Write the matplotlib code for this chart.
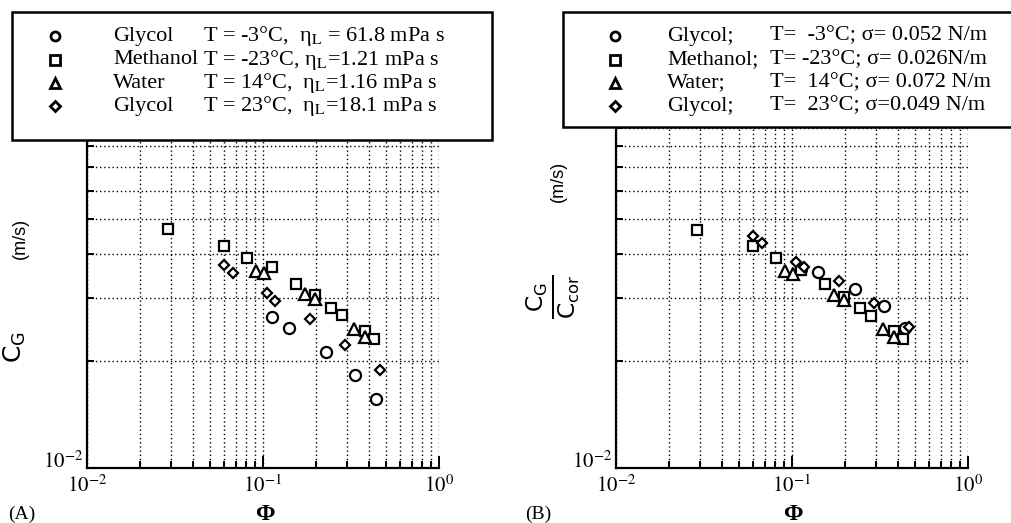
import numpy as np
import matplotlib
matplotlib.use("Agg")
import matplotlib.pyplot as plt
from matplotlib.lines import Line2D
from matplotlib.patches import Rectangle
from matplotlib.ticker import LogLocator, NullFormatter, FixedLocator

plt.rcParams['font.family'] = ['Liberation Serif', 'DejaVu Serif']
plt.rcParams['mathtext.fontset'] = 'stix'

# phi values (same for both panels)
phi_gly3 = [0.113, 0.1406, 0.229, 0.332, 0.4406]
phi_meth = [0.0288, 0.0598, 0.0806, 0.113, 0.1535, 0.197, 0.2427, 0.2825, 0.382, 0.4256]
phi_wat = [0.091, 0.1009, 0.1726, 0.197, 0.329, 0.382]
phi_gly23 = [0.0598, 0.0676, 0.106, 0.1165, 0.184, 0.294, 0.4645]

# (A) C_G in m/s
cg_gly3 = [0.0265, 0.0247, 0.0212, 0.0183, 0.0156]
cg_meth = [0.0469, 0.0421, 0.0390, 0.0367, 0.0329, 0.0306, 0.0282, 0.0269, 0.0243, 0.0231]
cg_wat = [0.0357, 0.0354, 0.0308, 0.0298, 0.0246, 0.0233]
cg_gly23 = [0.0372, 0.0354, 0.0310, 0.0295, 0.0262, 0.0222, 0.0188]

# (B) C_G / C_cor
cr_gly3 = [0.0362, 0.0356, 0.0319, 0.0285, 0.0248]
cr_meth = [0.0466, 0.0419, 0.0388, 0.0360, 0.0328, 0.0303, 0.0282, 0.0268, 0.0243, 0.0230]
cr_wat = [0.0357, 0.0351, 0.0306, 0.0296, 0.0246, 0.0234]
cr_gly23 = [0.0449, 0.0428, 0.0378, 0.0368, 0.0335, 0.0291, 0.0249]

markers = ['o', 's', '^', 'D']
sizes = [8, 7.5, 8, 5.5]

names_a = ["Glycol", "Methanol", "Water", "Glycol"]
info_a = [r"T = -3°C,  η$_\mathrm{L}$ = 61.8 mPa s",
          r"T = -23°C, η$_\mathrm{L}$=1.21 mPa s",
          r"T = 14°C,  η$_\mathrm{L}$=1.16 mPa s",
          r"T = 23°C,  η$_\mathrm{L}$=18.1 mPa s"]
names_b = ["Glycol;", "Methanol;", "Water;", "Glycol;"]
info_b = ["T=  -3°C; σ= 0.052 N/m",
          "T= -23°C; σ= 0.026N/m",
          "T=  14°C; σ= 0.072 N/m",
          "T=  23°C; σ=0.049 N/m"]

W, H = 1011, 523
fig = plt.figure(figsize=(W / 100, H / 100), dpi=100)

def fx(x):
    return x / W

def fy(y):
    return 1 - y / H


def panel(left, series):
    ax = fig.add_axes([fx(left), fy(468), 352 / W, 356 / H])
    ax.set_xscale('log')
    ax.set_yscale('log')
    ax.set_xlim(0.01, 1)
    ax.set_ylim(0.01, 0.1)
    for (x, y), m, s in zip(series, markers, sizes):
        ax.plot(x, y, linestyle='none', marker=m, ms=s, mfc='white',
                mec='black', mew=1.6, zorder=3)
    ax.xaxis.set_major_locator(FixedLocator([0.01, 0.1, 1]))
    ax.set_xticklabels([r'$10^{-2}$', r'$10^{-1}$', r'$10^{0}$'])
    ax.xaxis.set_minor_locator(LogLocator(base=10, subs=np.arange(2, 10)))
    ax.xaxis.set_minor_formatter(NullFormatter())
    ax.yaxis.set_major_locator(FixedLocator([0.01, 0.1]))
    ax.set_yticklabels([r'$10^{-2}$', ''])
    ax.yaxis.set_minor_locator(LogLocator(base=10, subs=np.arange(2, 10)))
    ax.yaxis.set_minor_formatter(NullFormatter())
    ax.tick_params(which='both', direction='in', width=1.4, labelsize=15,
                   top=False, right=False)
    ax.tick_params(which='major', length=9)
    ax.tick_params(axis='x', which='major', pad=5)
    ax.tick_params(axis='y', which='major', pad=3)
    ax.tick_params(which='minor', length=5)
    for lab in ax.get_yticklabels():
        lab.set_verticalalignment('baseline')
    ax.grid(True, which='both', color='black', linestyle=(0, (1, 2)), lw=1.0)
    for sp in ['top', 'right']:
        ax.spines[sp].set_visible(False)
    for sp in ['left', 'bottom']:
        ax.spines[sp].set_linewidth(1.6)
    return ax


axA = panel(87, list(zip([phi_gly3, phi_meth, phi_wat, phi_gly23],
                          [cg_gly3, cg_meth, cg_wat, cg_gly23])))
axB = panel(616, list(zip([phi_gly3, phi_meth, phi_wat, phi_gly23],
                          [cr_gly3, cr_meth, cr_wat, cr_gly23])))

# y labels
fig.text(fx(15), fy(347), r'$\mathrm{C}_\mathrm{G}$', rotation=90, fontsize=18,
         ha='center', va='center', math_fontfamily='dejavusans')
fig.text(fx(20), fy(238), '(m/s)', rotation=90, fontsize=13,
         family='Liberation Sans', ha='center', va='center')
fig.text(fx(553), fy(297), r'$\frac{\mathrm{C}_\mathrm{G}}{\mathrm{C}_\mathrm{cor}}$',
         rotation=90, fontsize=24, ha='center', va='center',
         math_fontfamily='dejavusans')
fig.text(fx(558), fy(181), '(m/s)', rotation=90, fontsize=13,
         family='Liberation Sans', ha='center', va='center')

# x labels and panel tags
for cx, tag, tx in [(265, '(A)', 8), (793, '(B)', 525)]:
    fig.text(fx(cx), fy(514), 'Φ', fontsize=17, fontweight='bold',
             ha='center', va='center')
    fig.text(fx(tx), fy(514), tag, fontsize=14, ha='left', va='center')

# legend boxes
rows_y = [36, 60, 83, 106]


def legend_box(x0, x1, y1, mx, nx, tx, names, infos):
    fig.patches.append(Rectangle((fx(x0), fy(y1)), fx(x1 - x0), (y1 - 12) / H,
                                 transform=fig.transFigure, facecolor='white',
                                 edgecolor='black', lw=1.8, zorder=10))
    for y, m, nm, inf in zip(rows_y, markers, names, infos):
        fig.add_artist(Line2D([fx(mx)], [fy(y)], marker=m, ms=6.5 if m != 'D' else 5,
                              mfc='white', mec='black', mew=2,
                              transform=fig.transFigure, zorder=11))
        fig.text(fx(nx), fy(y), nm, fontsize=16, ha='left', va='center', zorder=11)
        fig.text(fx(tx), fy(y), inf, fontsize=16, ha='left', va='center', zorder=11)


legend_box(12, 492, 140, 55, 113, 203, names_a, info_a)
legend_box(563, 1030, 127, 615, 667, 770, names_b, info_b)

fig.savefig('out.png', dpi=100)
